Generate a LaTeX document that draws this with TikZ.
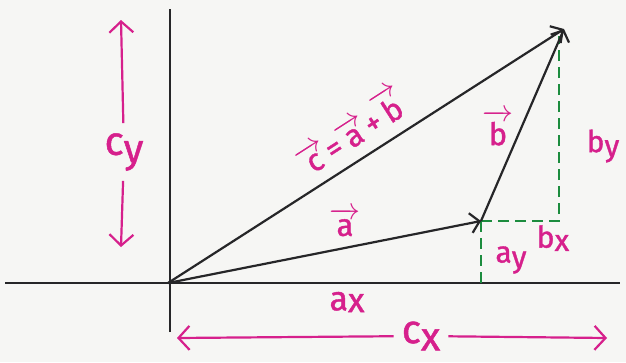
\RequirePackage{fix-cm}
\documentclass[tikz,border=0pt]{standalone}
\usepackage{amsmath}
\usepackage{fontspec}
\setmainfont{Fira Sans}[FakeBold=1.2]
\usetikzlibrary{arrows.meta,positioning,calc}
\definecolor{rosa}{RGB}{214,32,140}
\definecolor{verde}{RGB}{28,140,62}
\definecolor{papel}{RGB}{246,246,244}
\definecolor{lapis}{RGB}{38,38,40}
\newcommand{\vet}[1]{$\overrightarrow{\text{#1}}$}

\begin{document}
\begin{tikzpicture}[
      x=1pt, y=-1pt,
      vetor/.style={line width=2.2pt, draw=lapis,
        -{Straight Barb[length=9pt,width=20pt]}},
      eixo/.style={line width=2.6pt, draw=lapis},
      comp/.style={line width=2.4pt, draw=verde, dash pattern=on 11pt off 6pt},
      medida/.style={line width=2.2pt, draw=rosa,
        -{Straight Barb[length=11pt,width=24pt]}},
      rotulo/.style={text=rosa, font=\fontsize{40}{44}\selectfont, inner sep=2pt},
      rotcomp/.style={text=rosa, font=\fontsize{30}{34}\selectfont, inner sep=1pt},
      rotvec/.style={text=rosa, font=\fontsize{31}{34}\selectfont, inner sep=1pt}
  ]
      % Fundo (papel)
      \useasboundingbox[fill=papel] (0,0) rectangle (626,362);

      % Pontos principais
      \coordinate (O) at (168,283);
      \coordinate (A) at (481,221);
      \coordinate (C) at (564,29);
      \coordinate (Bx) at (559,221);
      \coordinate (Ax) at (481,283);
      \coordinate (By) at (559,36);

      % Eixos
      \coordinate (xesq) at (5,283);
      \coordinate (xdir) at (620,283);
      \coordinate (ytopo) at (170,9);
      \coordinate (ybase) at (170,332);
      \draw[eixo] (xesq) -- (xdir);
      \draw[eixo] (ybase) -- (ytopo);

      % Componentes (tracejado verde)
      \draw[comp] (A) -- (Bx) -- (By);
      \draw[comp] (A) -- (Ax);

      % Vetores
      \draw[vetor] (O) -- (A);
      \draw[vetor] (A) -- (C);
      \draw[vetor] (O) -- (C);

      % Rótulos dos vetores
      \node[rotvec, rotate=32.8] (lc) at (350,130) {\vet{c}=\vet{a}+\vet{b}};
      \node[rotvec] (la) at (345,222) {\vet{a}};
      \node[rotvec] (lb) at (498,128) {\vet{b}};

      % Rótulos das componentes
      \node[rotcomp] (lby) at (603,146) {b\raisebox{-0.25ex}{y}};
      \node[rotcomp] (lbx) at (553,238) {b\raisebox{-0.2ex}{x}};
      \node[rotcomp] (lay) at (511,260) {a\raisebox{-0.3ex}{y}};
      \node[rotulo, font=\fontsize{34}{38}\selectfont] (lax) at (347,302) {a\raisebox{-0.1ex}{x}};

      % Medidas cx e cy
      \coordinate (cytopo) at (121,20);
      \coordinate (cybase) at (121,247);
      \node[rotulo, inner ysep=10pt] (cy) at (124,152) {c\raisebox{-0.35ex}{y}};
      \draw[medida] (cy) -- (cytopo);
      \draw[medida] (cy) -- (cybase);

      \coordinate (cxesq) at (177,338);
      \coordinate (cxdir) at (607,338);
      \node[rotulo, inner xsep=8pt] (cx) at (421,336) {c\raisebox{-0.35ex}{x}};
      \draw[medida] (cx) -- (cxesq);
      \draw[medida] (cx) -- (cxdir);

  \end{tikzpicture}
\end{document}
